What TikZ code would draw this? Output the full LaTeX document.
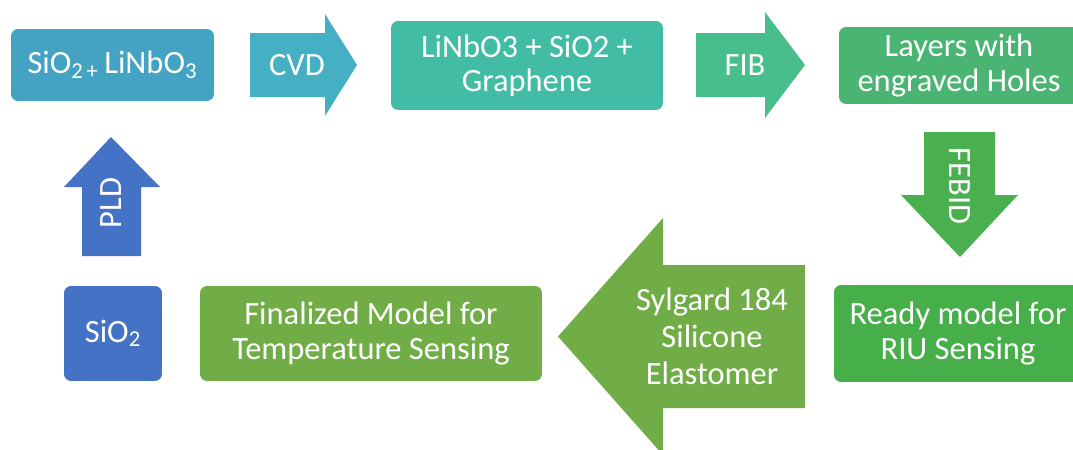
\documentclass[tikz,border=0pt]{standalone}
\usepackage{fontspec}
\setmainfont{Carlito}
\usetikzlibrary{positioning}

\definecolor{boxblue}{HTML}{44A2C3}
\definecolor{cvdblue}{HTML}{45B0C3}
\definecolor{boxteal}{HTML}{43BCA6}
\definecolor{fibgreen}{HTML}{48BE8C}
\definecolor{holegreen}{HTML}{4AB572}
\definecolor{febidgreen}{HTML}{4AB04F}
\definecolor{riugreen}{HTML}{47AF4A}
\definecolor{olivegreen}{HTML}{70AD47}
\definecolor{siblue}{HTML}{4472C4}

\begin{document}
\begin{tikzpicture}[
    x=0.02cm, y=-0.02cm,
    stage/.style={rounded corners=4pt, text=white, align=center, inner sep=0pt,
                  font=\fontsize{18.5}{19.5}\selectfont},
    arrowlabel/.style={text=white, align=center, inner sep=0pt,
                  font=\fontsize{18.5}{21}\selectfont},
]
    \clip (0,0) rectangle (1073,450);

    % Stages
    \node[stage, fill=boxblue, minimum width=4.06cm, minimum height=1.44cm] (mix) at (112.5,65)
        {SiO\textsubscript{2\,+}\,LiNbO\textsubscript{3}};
    \node[stage, fill=boxteal, minimum width=5.44cm, minimum height=1.78cm] (graph) at (527,65.5)
        {LiNbO3 + SiO2 +\\Graphene};
    \node[stage, fill=holegreen, minimum width=4.8cm, minimum height=1.54cm] (holes) at (959,65.5)
        {Layers with\\engraved Holes};
    \node[stage, fill=riugreen, minimum width=4.96cm, minimum height=1.94cm] (riu) at (958,333.5)
        {Ready model for\\RIU Sensing};
    \node[stage, fill=olivegreen, minimum width=6.84cm, minimum height=1.9cm] (final) at (371,333.5)
        {Finalized Model for\\Temperature Sensing};
    \node[stage, fill=siblue, minimum width=1.96cm, minimum height=1.9cm] (sio) at (113,333.5)
        {SiO\textsubscript{2}};

    % Process arrows
    \fill[cvdblue] (250,33) -- (325,33) -- (325,14) -- (357,65) -- (325,116) -- (325,97) -- (250,97) -- cycle;
    \node[arrowlabel] (cvd) at (297,65) {CVD};

    \fill[fibgreen] (696,33) -- (765,33) -- (765,12) -- (805,65) -- (765,118) -- (765,97) -- (696,97) -- cycle;
    \node[arrowlabel] (fib) at (745,65) {FIB};

    \fill[febidgreen] (924,132) -- (995,132) -- (995,195) -- (1018,195) -- (960,257) -- (901,195) -- (924,195) -- cycle;
    \node[arrowlabel, rotate=-90] (febid) at (960,186) {FEBID};

    \fill[olivegreen] (805,265) -- (663,265) -- (663,218) -- (558,336.5) -- (663,455) -- (663,408) -- (805,408) -- cycle;
    \node[arrowlabel] (sylgard) at (712,336) {Sylgard 184\\Silicone\\Elastomer};

    \fill[siblue] (82,256) -- (141,256) -- (141,187) -- (160,187) -- (111,137) -- (64,187) -- (82,187) -- cycle;
    \node[arrowlabel, rotate=90] (pld) at (111,203) {PLD};

\end{tikzpicture}
\end{document}
